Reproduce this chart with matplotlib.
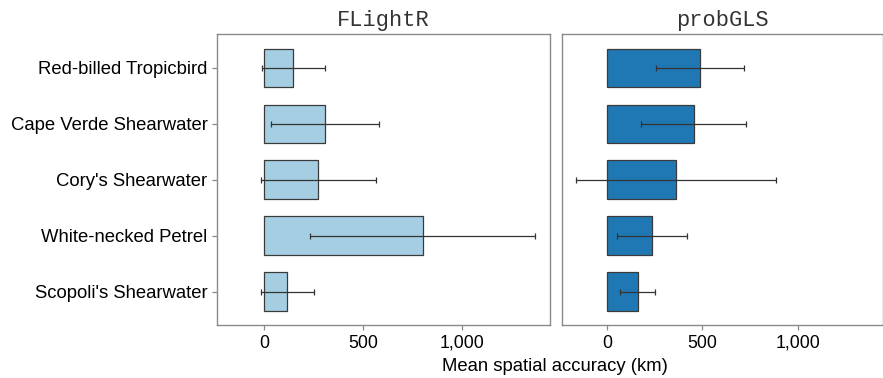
import matplotlib
matplotlib.use("Agg")
import matplotlib.pyplot as plt
from matplotlib.ticker import FuncFormatter

species = ["Red-billed Tropicbird", "Cape Verde Shearwater", "Cory's Shearwater",
           "White-necked Petrel", "Scopoli's Shearwater"]
methods = ["FLightR", "probGLS"]
flightr_mean = [148, 308, 274, 802, 117]
flightr_sd = [161, 273, 290, 570, 134]
probgls_mean = [490, 454, 362, 236, 161]
probgls_sd = [231, 274, 523, 182, 90]
xticks = [0, 500, 1000]

means = [flightr_mean, probgls_mean]
sds = [flightr_sd, probgls_sd]
colors = ["#a6cee3", "#1f78b4"]

fig = plt.figure(figsize=(8.83, 3.78), dpi=100)
ax_l = fig.add_axes([0.246, 0.140, 0.377, 0.769])
ax_r = fig.add_axes([0.636, 0.140, 0.364, 0.769])
spine_c = "#8a8a8a"
fmt = FuncFormatter(lambda v, p: f"{int(v):,}")
ypos = list(range(len(species)))
for i, ax in enumerate([ax_l, ax_r]):
    ax.barh(ypos, means[i], height=0.69, color=colors[i], edgecolor="#3a3a3a", linewidth=0.9, zorder=2)
    ax.errorbar(means[i], ypos, xerr=sds[i], fmt="none", ecolor="#333333",
                elinewidth=0.9, capsize=2.5, capthick=0.9, zorder=3)
    ax.set_xlim(-238, 1448)
    ax.set_ylim(len(species) - 0.4, -0.6)
    ax.set_xticks(xticks)
    ax.xaxis.set_major_formatter(fmt)
    for s in ax.spines.values():
        s.set_color(spine_c)
        s.set_linewidth(1.0)
    ax.tick_params(axis="both", colors=spine_c, length=3.5, width=0.9, labelcolor="black",
                   labelsize=12.8)
    ax.set_title(methods[i], family="Liberation Mono", fontsize=15.8, pad=6, color="#333333")
    for lab in ax.get_xticklabels():
        lab.set_family("Liberation Sans")

ax_l.set_yticks(ypos)
ax_l.set_yticklabels(species, family="Liberation Sans", fontsize=13.3)
ax_r.set_yticks([])
fig.text(0.629, 0.008, "Mean spatial accuracy (km)", ha="center", va="bottom",
         family="Liberation Sans", fontsize=13.3)

fig.savefig("out.png", dpi=100)
